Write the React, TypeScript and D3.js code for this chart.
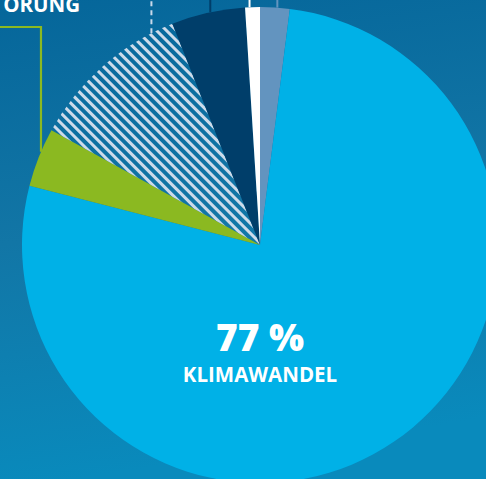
import React from "react";
import * as d3 from "d3";

const categories = ["Sonstige", "Klimawandel", "Landnutzung", "Störung", "Schädlinge", "Unbekannt"];
const values = [2, 77, 4, 11, 5, 1];
const colors = ["#6394bf", "#00b1e7", "#8bb921", "url(#hatch)", "#003e6a", "#ffffff"];
const leaderColors = ["#6394bf", null, "#8bb921", "#c9d9ea", "#003e6a", "#ffffff"];
const leaderFrac = [0.58, 0, 0.6, 0.86, 0.53, 0.3];
const mainLabel = "77 %";
const mainName = "KLIMAWANDEL";
const cornerLabel = "STÖRUNG";

const W = 486;
const H = 479;

export default function App() {
  const cx = 260;
  const cy = 245;
  const r = 238;
  const pie = d3.pie<number>().sort(null).value((d) => d)(values);
  const arc = d3.arc<d3.PieArcDatum<number>>().innerRadius(0).outerRadius(r);

  const leaders = pie.map((p, i) => {
    if (!leaderColors[i]) return null;
    const a = p.startAngle + (p.endAngle - p.startAngle) * leaderFrac[i];
    const x = cx + r * Math.sin(a);
    const y = cy - r * Math.cos(a);
    return { x, y, i };
  });

  return (
    <svg
      width={W}
      height={H}
      style={{ position: "absolute", left: 0, top: 0, display: "block" }}
      fontFamily="'Open Sans', sans-serif"
    >
      <defs>
        <linearGradient id="bg" x1="0" y1="0" x2="0.15" y2="1">
          <stop offset="0" stopColor="#05669a" />
          <stop offset="0.5" stopColor="#1276a6" />
          <stop offset="1" stopColor="#098abc" />
        </linearGradient>
        <pattern
          id="hatch"
          patternUnits="userSpaceOnUse"
          width={7}
          height={7}
          patternTransform="rotate(-45)"
        >
          <rect x={0} y={0} width={3} height={7} fill="#cddbea" />
        </pattern>
      </defs>
      <rect x={0} y={0} width={W} height={H} fill="url(#bg)" />
      {leaders.map((l) => {
        if (!l) return null;
        const c = leaderColors[l.i] as string;
        if (l.i === 2) {
          return (
            <polyline
              key={l.i}
              points={`${l.x},${l.y} ${l.x},27 0,27`}
              fill="none"
              stroke={c}
              strokeWidth={2.2}
            />
          );
        }
        return (
          <line
            key={l.i}
            x1={l.x}
            x2={l.x}
            y1={l.y}
            y2={0}
            stroke={c}
            strokeWidth={2}
            strokeDasharray={l.i === 3 ? "5 4" : undefined}
          />
        );
      })}
      <g transform={`translate(${cx},${cy})`}>
        {pie.map((p, i) => (
          <path key={categories[i]} d={arc(p) || ""} fill={colors[i]} />
        ))}
      </g>
      <text x={80} y={12} textAnchor="end" fill="#ffffff" fontWeight={700} fontSize={20.5}>
        {cornerLabel}
      </text>
      <text x={cx} y={351} textAnchor="middle" fill="#ffffff" fontWeight={800} fontSize={37}>
        {mainLabel}
      </text>
      <text x={cx} y={382} textAnchor="middle" fill="#ffffff" fontWeight={700} fontSize={20.5}>
        {mainName}
      </text>
    </svg>
  );
}
